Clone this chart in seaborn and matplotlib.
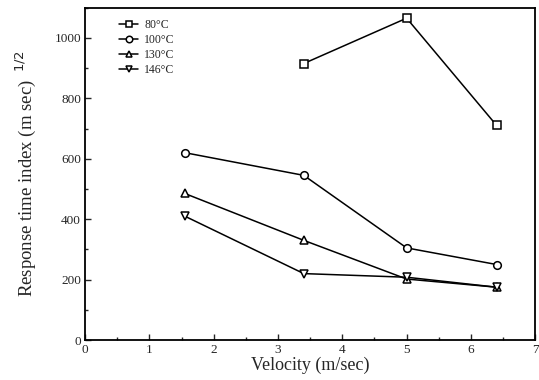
import matplotlib
matplotlib.use("Agg")
import matplotlib.pyplot as plt
from matplotlib.ticker import MultipleLocator
import seaborn as sns

# values
vel_80 = [3.4, 5.0, 6.4]
rti_80 = [915, 1065, 710]
vel_100 = [1.55, 3.4, 5.0, 6.4]
rti_100 = [620, 545, 305, 250]
vel_130 = [1.55, 3.4, 5.0, 6.4]
rti_130 = [485, 330, 202, 175]
vel_146 = [1.55, 3.4, 5.0, 6.4]
rti_146 = [410, 220, 208, 175]

labels = ["80\u00b0C", "100\u00b0C", "130\u00b0C", "146\u00b0C"]
markers = ["s", "o", "^", "v"]

sns.set_theme(style="ticks")
plt.rcParams['font.family'] = ['Liberation Serif', 'DejaVu Serif']

fig = plt.figure(figsize=(5.39, 3.8), dpi=100)
ax = fig.add_axes([0.158, 0.105, 0.835, 0.875])

series = [(vel_80, rti_80), (vel_100, rti_100), (vel_130, rti_130), (vel_146, rti_146)]
for (x, y), lab, m in zip(series, labels, markers):
    sns.lineplot(x=x, y=y, ax=ax, color="black", lw=1.1, marker=m, markersize=5.5,
                 markerfacecolor="white", markeredgecolor="black", markeredgewidth=1.1,
                 label=lab)

ax.set_xlim(0, 7)
ax.set_ylim(0, 1100)
ax.xaxis.set_major_locator(MultipleLocator(1))
ax.xaxis.set_minor_locator(MultipleLocator(0.5))
ax.yaxis.set_major_locator(MultipleLocator(200))
ax.yaxis.set_minor_locator(MultipleLocator(100))
ax.tick_params(which="both", direction="in", top=False, right=False, labelsize=9.5, width=1)
ax.tick_params(which="major", length=4, pad=3)
ax.tick_params(which="minor", length=2)
for s in ax.spines.values():
    s.set_linewidth(1.3)
    s.set_color("black")

ax.set_xlabel("Velocity (m/sec)", fontsize=13, labelpad=0)
ax.set_ylabel("Response time index (m sec)$^{\\ \\ 1/2}$", fontsize=13.5, labelpad=12)

leg = ax.legend(loc="upper left", frameon=False, fontsize=8.5, handlelength=1.6,
                handletextpad=0.5, labelspacing=0.25, borderaxespad=0.6,
                bbox_to_anchor=(0.05, 1.0), markerscale=0.85)

fig.savefig("out.png", dpi=100)
